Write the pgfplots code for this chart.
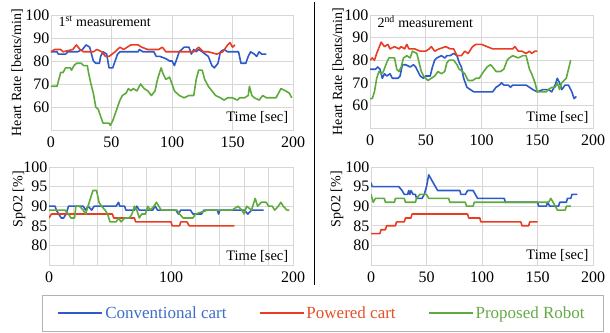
\documentclass[border=0pt]{standalone}
\usepackage{fontspec}
\setmainfont{Liberation Serif}
\newfontfamily\tnr{Liberation Serif}
\usepackage{pgfplots}
\pgfplotsset{compat=1.18}
\definecolor{cblue}{RGB}{45,90,200}
\definecolor{cred}{RGB}{235,60,35}
\definecolor{cgreen}{RGB}{95,170,60}
\definecolor{lblue}{RGB}{60,110,200}
\definecolor{lred}{RGB}{230,80,40}
\definecolor{lgreen}{RGB}{100,170,70}
\definecolor{gridc}{RGB}{215,215,215}
\pgfplotsset{
  panel/.style={
    scale only axis, xmin=0, xmax=200,
    axis line style={draw=gridc, line width=0.8pt},
    grid=major, major grid style={draw=gridc, line width=0.7pt},
    major tick length=0pt,
    tick label style={font=\tnr\fontsize{16}{18}\selectfont},
    yticklabel style={inner xsep=1.5pt},
    xticklabel style={yshift=-3pt},
    label style={font=\tnr\fontsize{14}{16}\selectfont},
    /pgf/number format/assume math mode=true,
    every axis plot/.append style={line width=1.6pt, line join=round, mark=none},
  },
  legend image code/.code={\draw[#1, line width=2.2pt] (0pt,0pt) -- (39pt,0pt); \path (0pt,0pt) -- (44pt,0pt);},
}
\begin{document}
\begin{tikzpicture}[x=1pt,y=1pt,font=\tnr]
\path[use as bounding box] (0,0) rectangle (610,332);
% ---------- top-left ----------
\begin{axis}[panel, at={(51pt,202pt)}, anchor=south west, width=242pt, height=115pt,
  ymin=50, ymax=100, ytick={60,70,80,90,100}, xtick={0,50,100,150,200},
  ylabel={Heart Rate [beats/min]},
  ylabel style={at={(axis description cs:-0.14,0.5)}, anchor=center}]
\addplot[cblue] coordinates {(0,84)(5,84)(6,83)(12,83)(14,84)(22,84)(26,85)(29,87)(32,86)(35,80)(37,79)(40,79)(41,82)(43,84)(46,83)(48,77)(51,77)(53,80)(55,83)(57,84)(72,84)(73,85)(76,84)(85,84)(87,82)(90,82)(95,81)(98,80)(100,80)(102,78)(104,81)(106,84)(110,86)(114,86)(116,83)(118,85)(120,84)(122,85)(125,84)(130,82)(133,78)(135,77)(138,79)(140,84)(143,85)(146,84)(155,84)(157,79)(161,79)(163,82)(165,84)(168,83)(170,82)(172,84)(174,83)(178,83)};
\addplot[cred] coordinates {(0,84)(3,85)(8,85)(10,84)(18,85)(21,87)(24,85)(27,84)(35,84)(38,85)(42,84)(45,82)(48,82)(53,84)(57,86)(60,85)(63,86)(66,87)(72,87)(75,86)(80,85)(89,85)(92,86)(95,84)(103,84)(118,84)(122,86)(126,84)(130,84)(137,83)(142,84)(146,87)(148,88)(150,86)(152,87)};
\addplot[cgreen] coordinates {(0,69)(5,69)(7,73)(8,75)(10,75)(12,77)(16,77)(17,76)(19,78)(21,79)(25,79)(27,78)(30,78)(31,75)(33,70)(35,66)(37,60)(39,59)(41,56)(43,53)(48,53)(49,52)(51,54)(53,57)(55,60)(57,63)(59,65)(62,66)(64,68)(66,67)(68,68)(71,67)(74,70)(77,68)(80,67)(83,65)(86,67)(88,72)(91,77)(93,74)(95,72)(98,73)(100,70)(102,67)(106,65)(110,64)(114,65)(118,65)(120,72)(122,76)(125,76)(127,72)(130,69)(133,67)(136,65)(140,64)(143,63)(146,64)(150,64)(154,63)(156,64)(160,64)(163,65)(164,69)(166,65)(168,64)(172,63)(175,65)(178,64)(186,64)(188,66)(190,68)(194,67)(197,66)(199,64)};
\node[anchor=base west, font=\tnr\fontsize{14}{16}\selectfont] at (rel axis cs:0.017,0.896) {1\textsuperscript{st} measurement};
\node[anchor=base east, font=\tnr\fontsize{14.5}{16}\selectfont] at (rel axis cs:0.995,0.07) {Time [sec]};
\end{axis}
% ---------- top-right ----------
\begin{axis}[panel, at={(370pt,204pt)}, anchor=south west, width=223pt, height=113pt,
  ymin=50, ymax=100, ytick={60,70,80,90,100}, xtick={0,50,100,150,200},
  ylabel={Heart Rate [beats/min]},
  ylabel style={at={(axis description cs:-0.143,0.5)}, anchor=center}]
\addplot[cblue] coordinates {(0,76)(5,76)(7,77)(9,76)(11,72)(13,74)(15,73)(18,74)(20,72)(25,72)(27,73)(29,78)(32,78)(36,77)(39,78)(41,77)(43,75)(45,73)(48,72)(50,73)(54,73)(56,77)(58,80)(60,81)(64,82)(67,81)(69,82)(72,82)(75,83)(78,82)(80,79)(82,77)(84,72)(87,68)(90,67)(93,66)(110,66)(113,68)(116,69)(118,70)(120,69)(124,69)(126,68)(128,69)(140,69)(143,68)(146,67)(150,66)(155,67)(160,67)(163,66)(166,69)(168,72)(170,70)(172,67)(175,69)(178,69)(181,66)(183,63)(185,64)};
\addplot[cred] coordinates {(0,80)(2,81)(4,80)(6,83)(10,88)(13,86)(16,87)(18,85)(22,86)(26,85)(28,86)(31,85)(33,87)(35,85)(40,85)(45,84)(50,84)(53,85)(55,86)(58,84)(62,85)(68,86)(72,85)(75,85)(78,82)(82,82)(85,84)(88,83)(92,86)(95,87)(100,87)(105,86)(110,85)(128,85)(130,86)(133,84)(136,84)(140,83)(143,84)(145,83)(148,84)(150,84)};
\addplot[cgreen] coordinates {(0,63)(2,63)(4,66)(6,72)(8,75)(10,74)(12,75)(15,79)(17,81)(22,81)(24,76)(26,75)(28,77)(30,81)(33,82)(36,81)(38,84)(42,83)(44,79)(46,75)(48,73)(52,71)(55,72)(58,73)(61,75)(64,74)(67,75)(69,79)(71,80)(75,80)(78,78)(80,76)(83,75)(85,74)(88,71)(92,71)(95,72)(98,72)(102,75)(105,77)(108,78)(110,77)(113,75)(117,75)(120,76)(123,80)(125,81)(128,82)(133,81)(137,82)(140,82)(143,76)(145,74)(148,70)(150,66)(158,66)(160,67)(163,68)(166,68)(168,70)(170,67)(172,70)(174,71)(176,72)(178,76)(180,80)};
\node[anchor=base west, font=\tnr\fontsize{14}{16}\selectfont] at (rel axis cs:0.018,0.885) {2\textsuperscript{nd} measurement};
\node[anchor=base east, font=\tnr\fontsize{14.5}{16}\selectfont] at (rel axis cs:0.995,0.06) {Time [sec]};
\end{axis}
% ---------- bottom-left ----------
\begin{axis}[panel, at={(49pt,67pt)}, anchor=south west, width=244pt, height=98pt,
  ymin=75, ymax=100, ytick={80,85,90,95,100},
  xtick={0,20,...,200}, xticklabels={0,,,,,100,,,,,200},
  ylabel={SpO2 [\%]},
  ylabel style={at={(axis description cs:-0.123,0.67)}, anchor=center},
  legend columns=3,
  legend style={draw=none, fill=none, at={(axis description cs:1.119,-0.49)}, anchor=center,
    font=\tnr\fontsize{17}{19}\selectfont, /tikz/every even column/.append style={column sep=30pt}}]
\addplot[cblue] coordinates {(0,90)(5,90)(6,89)(8,88)(10,87)(12,87)(14,88)(16,90)(28,90)(30,89)(32,90)(35,89)(37,90)(55,90)(57,91)(58,90)(62,90)(63,89)(70,89)(72,90)(74,89)(85,89)(87,90)(89,89)(104,89)(106,88)(108,89)(116,89)(118,88)(125,88)(127,89)(138,89)(139,88)(140,89)(160,89)(163,88)(166,89)(176,89)};
\addlegendentry{\textcolor{lblue}{Conventional cart}}
\addplot[cred] coordinates {(0,87)(2,88)(52,88)(53,87)(70,87)(71,86)(100,86)(101,85)(107,85)(108,86)(113,86)(115,85)(152,85)};
\addlegendentry{\textcolor{lred}{Powered cart}}
\addplot[cgreen] coordinates {(0,89)(13,89)(16,88)(18,87)(21,87)(22,90)(25,90)(28,89)(30,88)(32,90)(34,92)(36,94)(39,94)(41,91)(43,90)(46,89)(48,88)(50,86)(55,86)(57,87)(59,86)(62,87)(66,87)(68,88)(70,90)(72,89)(74,87)(76,88)(79,88)(81,90)(83,89)(86,90)(88,91)(90,90)(92,89)(105,89)(107,88)(110,87)(118,87)(120,88)(130,89)(150,89)(155,90)(158,89)(160,88)(162,90)(166,89)(169,92)(171,90)(174,91)(178,91)(180,90)(183,90)(185,89)(188,90)(190,91)(192,90)(195,89)(197,89)};
\addlegendentry{\textcolor{lgreen}{Proposed Robot}}
\node[anchor=base east, font=\tnr\fontsize{14.5}{16}\selectfont] at (rel axis cs:0.995,0.05) {Time [sec]};
\end{axis}
% ---------- bottom-right ----------
\begin{axis}[panel, at={(371pt,67pt)}, anchor=south west, width=222pt, height=98pt,
  ymin=75, ymax=100, ytick={80,85,90,95,100}, xtick={0,50,100,150,200},
  ylabel={SpO2 [\%]},
  ylabel style={at={(axis description cs:-0.153,0.67)}, anchor=center}]
\addplot[cblue] coordinates {(0,96)(1,95)(25,95)(28,94)(30,93)(33,93)(34,94)(35,93)(36,94)(38,93)(40,93)(41,92)(46,92)(48,93)(50,95)(52,98)(54,97)(56,96)(58,95)(60,94)(80,94)(81,93)(85,93)(87,94)(92,94)(94,93)(96,92)(120,92)(121,91)(150,91)(151,90)(158,90)(159,91)(161,90)(169,90)(170,91)(176,91)(177,92)(180,92)(181,93)(186,93)};
\addplot[cred] coordinates {(0,83)(8,83)(9,84)(13,84)(14,85)(22,85)(23,86)(30,86)(31,87)(36,87)(37,88)(87,88)(88,87)(98,87)(99,86)(135,86)(136,85)(142,85)(143,86)(150,86)};
\addplot[cgreen] coordinates {(0,93)(2,91)(4,92)(12,92)(13,91)(21,91)(22,92)(30,92)(31,91)(40,91)(41,92)(44,93)(50,93)(52,92)(70,92)(71,91)(85,91)(86,90)(92,90)(93,91)(160,91)(162,92)(164,91)(168,89)(175,89)(176,90)(180,90)};
\node[anchor=base east, font=\tnr\fontsize{14.5}{16}\selectfont] at (rel axis cs:0.995,0.06) {Time [sec]};
\end{axis}
% separator and legend box
\draw[black, line width=1pt] (314,330) -- (314,47);
\draw[gray!60, line width=0.8pt] (42,1) rectangle (603,37);
\end{tikzpicture}
\end{document}
